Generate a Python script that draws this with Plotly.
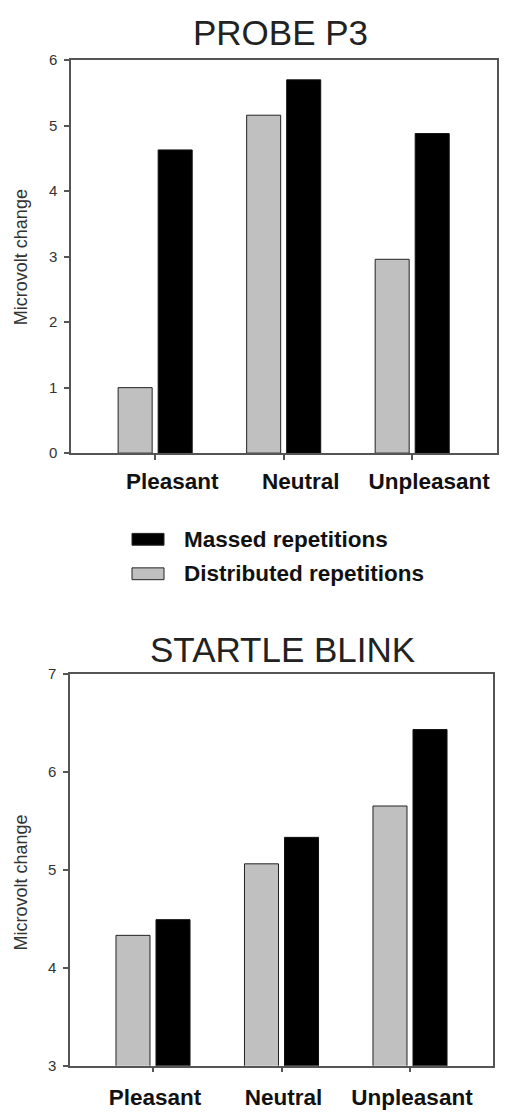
import plotly.graph_objects as go

categories = ["Pleasant", "Neutral", "Unpleasant"]
series_names = ["Distributed repetitions", "Massed repetitions"]
p3_distributed = [1.0, 5.16, 2.96]
p3_massed = [4.63, 5.70, 4.88]
blink_distributed = [4.33, 5.06, 5.65]
blink_massed = [4.49, 5.33, 6.43]
p3_ticks = [0, 1, 2, 3, 4, 5, 6]
blink_ticks = [3, 4, 5, 6, 7]
y_title = "Microvolt change"
titles = ["PROBE P3", "STARTLE BLINK"]

W, H = 505, 1117
FONT = "Liberation Sans, Arial, sans-serif"
GREY = "#c0c0c0"
BLACK = "#000000"
AXC = "#555555"

fig = go.Figure()

def add_bars(dist, massed, xa, ya):
    fig.add_trace(go.Bar(x=categories, y=dist, name=series_names[0],
                         marker=dict(color=GREY, line=dict(color="#222222", width=1)),
                         xaxis=xa, yaxis=ya, showlegend=False))
    fig.add_trace(go.Bar(x=categories, y=massed, name=series_names[1],
                         marker=dict(color=BLACK, line=dict(color="#111111", width=1)),
                         xaxis=xa, yaxis=ya, showlegend=False))

add_bars(p3_distributed, p3_massed, "x", "y")
add_bars(blink_distributed, blink_massed, "x2", "y2")

def px_x(v):
    return v / W

def px_y(v):
    return 1 - v / H

common_axis = dict(showline=True, mirror=True, linecolor=AXC, linewidth=1.5,
                   ticks="outside", ticklen=5, tickcolor=AXC, tickwidth=1.5,
                   showgrid=False, zeroline=False)
xtickfont = dict(size=22.5, family=FONT, color="#111111", weight="bold")
ytickfont = dict(size=15, family=FONT, color="#333333")

fig.update_layout(
    width=W, height=H,
    margin=dict(l=0, r=0, t=0, b=0),
    paper_bgcolor="white", plot_bgcolor="white",
    barmode="group", bargap=0.377, bargroupgap=0.15,
    showlegend=False,
    font=dict(family=FONT, color="#222222"),
    xaxis=dict(domain=[px_x(71), px_x(497)], anchor="y", type="category",
               range=[-0.655, 2.66], tickfont=xtickfont,
               ticklabelshift=17, ticklabelstandoff=2, **common_axis),
    yaxis=dict(domain=[px_y(451), px_y(52)], anchor="x", range=[0, 6],
               tickvals=p3_ticks, ticktext=[str(t) for t in p3_ticks],
               tickfont=ytickfont, ticklabelstandoff=4, **common_axis),
    xaxis2=dict(domain=[px_x(70), px_x(493)], anchor="y2", type="category",
                range=[-0.646, 2.646], tickfont=xtickfont,
                ticklabelshift=2, ticklabelstandoff=6, **common_axis),
    yaxis2=dict(domain=[px_y(1073), px_y(675)], anchor="x2", range=[3, 7],
                tickvals=blink_ticks, ticktext=[str(t) for t in blink_ticks],
                tickfont=ytickfont, ticklabelstandoff=4, **common_axis),
)

# Y-axis titles
for yc in (252, 887):
    fig.add_annotation(text=y_title, xref="paper", yref="paper", x=px_x(21), y=px_y(yc),
                       textangle=-90, showarrow=False, xanchor="center", yanchor="middle",
                       font=dict(size=18, family=FONT, color="#333333"))

# Titles
fig.add_annotation(text=titles[0], xref="paper", yref="paper", x=px_x(280), y=px_y(24),
                   showarrow=False, xanchor="center", yanchor="middle",
                   font=dict(size=35, family=FONT, color="#222222"))
fig.add_annotation(text=titles[1], xref="paper", yref="paper", x=px_x(282), y=px_y(650),
                   showarrow=False, xanchor="center", yanchor="middle",
                   font=dict(size=35, family=FONT, color="#222222"))

# Legend (manual, massed first)
legend_rows = [(series_names[1], BLACK, 538.5), (series_names[0], GREY, 573.5)]
for name, col, yc in legend_rows:
    fig.add_shape(type="rect", xref="paper", yref="paper",
                  x0=px_x(132), x1=px_x(164), y0=px_y(yc + 6), y1=px_y(yc - 6),
                  fillcolor=col, line=dict(color="#222222", width=1))
    fig.add_annotation(text=name, xref="paper", yref="paper", x=px_x(182), y=px_y(yc),
                       showarrow=False, xanchor="left", yanchor="middle",
                       font=dict(size=22.5, family=FONT, color="#111111", weight="bold"))

fig.write_html("out.html")
